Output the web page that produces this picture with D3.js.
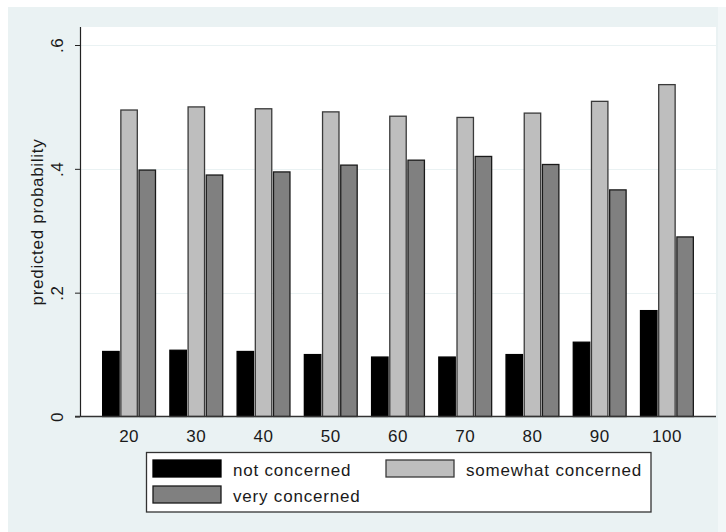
<!DOCTYPE html>
<html>
<head>
<meta charset="utf-8">
<script src="https://cdn.jsdelivr.net/npm/d3@7"></script>
<style>
  body { margin: 0; padding: 0; background: #ffffff; }
  svg { display: block; }
  text { font-family: "Liberation Sans", Arial, sans-serif; fill: #1a1a1a; }
</style>
</head>
<body>
<svg id="chart" width="726" height="532"></svg>
<script>
// ---- data ----
const categories = ["20", "30", "40", "50", "60", "70", "80", "90", "100"];
const seriesNames = ["not concerned", "somewhat concerned", "very concerned"];
const notConcerned      = [0.105, 0.107, 0.105, 0.100, 0.096, 0.096, 0.100, 0.120, 0.171];
const somewhatConcerned = [0.495, 0.500, 0.497, 0.492, 0.485, 0.483, 0.490, 0.509, 0.536];
const veryConcerned     = [0.398, 0.390, 0.395, 0.406, 0.414, 0.420, 0.407, 0.366, 0.290];
const yTicks = [0, 0.2, 0.4, 0.6];
const yTickLabels = ["0", ".2", ".4", ".6"];
const yTitle = "predicted probability";

const seriesValues = [notConcerned, somewhatConcerned, veryConcerned];
const fills = ["#000000", "#bebebe", "#808080"];
const strokes = ["#000000", "#3a3a3a", "#1a1a1a"];

const svg = d3.select("#chart");
const bg = "#eaf2f3";

// graph region
svg.append("rect").attr("x", 8).attr("y", 7).attr("width", 710).attr("height", 525).attr("fill", bg);
svg.append("rect").attr("x", 718).attr("y", 7).attr("width", 8).attr("height", 525).attr("fill", "#f2f7f8");

const plot = { left: 80, right: 716, top: 27, bottom: 416.5 };
svg.append("rect").attr("x", plot.left).attr("y", plot.top)
  .attr("width", plot.right - plot.left).attr("height", plot.bottom - plot.top)
  .attr("fill", "#ffffff");

const y = d3.scaleLinear().domain([0, 0.6]).range([plot.bottom, 45]);
const x = d3.scaleBand().domain(categories).range([plot.left, plot.right])
  .paddingInner(0.18).paddingOuter(0.32);
const xs = d3.scaleBand().domain(d3.range(3)).range([0, x.bandwidth()]).padding(0.03);

// grid lines
svg.append("g").selectAll("line").data(yTicks.filter(d => d > 0)).join("line")
  .attr("x1", plot.left).attr("x2", plot.right)
  .attr("y1", d => Math.round(y(d)) + 0.5).attr("y2", d => Math.round(y(d)) + 0.5)
  .attr("stroke", bg).attr("stroke-width", 1.2);

// bars
const rows = [];
categories.forEach((c, i) => {
  seriesValues.forEach((vals, s) => rows.push({ c, s, v: vals[i] }));
});
svg.append("g").selectAll("rect").data(rows).join("rect")
  .attr("x", d => x(d.c) + xs(d.s) + 0.6)
  .attr("width", xs.bandwidth() - 1.2)
  .attr("y", d => y(d.v))
  .attr("height", d => y(0) - y(d.v))
  .attr("fill", d => fills[d.s])
  .attr("stroke", d => strokes[d.s])
  .attr("stroke-width", 1.3);

// y axis
const yAxis = d3.axisLeft(y).tickValues(yTicks).tickSize(5).tickFormat((d, i) => yTickLabels[i]);
const gy = svg.append("g").attr("transform", `translate(${plot.left},0)`).call(yAxis);
gy.select(".domain").remove();
gy.selectAll(".tick line").attr("stroke", "#222").attr("stroke-width", 1);
gy.selectAll(".tick text")
  .attr("transform", "rotate(-90)")
  .attr("x", 0).attr("y", -17).attr("dy", 0)
  .attr("text-anchor", "middle")
  .style("font-size", "17px")
  .style("letter-spacing", "0.5px")
  .style("font-family", "'Liberation Sans', Arial, sans-serif")
  .attr("fill", "#1a1a1a");
svg.append("line").attr("x1", plot.left + 0.5).attr("x2", plot.left + 0.5)
  .attr("y1", plot.top).attr("y2", plot.bottom).attr("stroke", "#222").attr("stroke-width", 1.2);

// x axis
const xAxis = d3.axisBottom(x).tickSize(0).tickPadding(0);
const gx = svg.append("g").attr("transform", `translate(0,${plot.bottom})`).call(xAxis);
gx.select(".domain").remove();
gx.selectAll(".tick text").attr("y", 25).attr("dy", 0)
  .style("font-size", "17px")
  .style("letter-spacing", "0.5px")
  .style("font-family", "'Liberation Sans', Arial, sans-serif")
  .attr("fill", "#1a1a1a");
svg.append("line").attr("x1", plot.left - 5).attr("x2", plot.right)
  .attr("y1", plot.bottom).attr("y2", plot.bottom).attr("stroke", "#333").attr("stroke-width", 1.3);

// y title
svg.append("text")
  .attr("transform", `translate(43,222) rotate(-90)`)
  .attr("text-anchor", "middle")
  .style("font-size", "17px")
  .style("letter-spacing", "0.7px")
  .text(yTitle);

// legend
const lg = svg.append("g");
lg.append("rect").attr("x", 146.5).attr("y", 452.5).attr("width", 504.5).attr("height", 59.5)
  .attr("fill", "#ffffff").attr("stroke", "#333").attr("stroke-width", 1.3);
const legendPos = [
  { kx: 153, ky: 460, tx: 233, ty: 476 },
  { kx: 386, ky: 460, tx: 466, ty: 476 },
  { kx: 153, ky: 486, tx: 233, ty: 502 }
];
seriesNames.forEach((name, s) => {
  const p = legendPos[s];
  lg.append("rect").attr("x", p.kx).attr("y", p.ky).attr("width", 68).attr("height", 17)
    .attr("fill", fills[s]).attr("stroke", strokes[s]).attr("stroke-width", 1.3);
  lg.append("text").attr("x", p.tx).attr("y", p.ty)
    .style("font-size", "17px").style("letter-spacing", "0.8px").text(name);
});
</script>
</body>
</html>
